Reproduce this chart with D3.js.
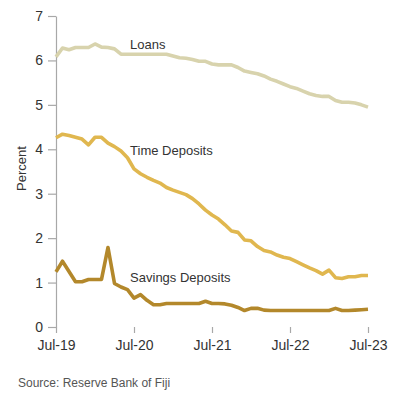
<!DOCTYPE html>
<html>
<head>
<meta charset="utf-8">
<script src="https://cdn.jsdelivr.net/npm/d3@7"></script>
<style>
  html, body { margin: 0; padding: 0; background: #fff; }
  svg { display: block; font-family: "Liberation Sans", Arial, sans-serif; }
</style>
</head>
<body>
<svg id="chart" width="395" height="394"></svg>
<script>
// Monthly interest rates, Jul-2019 to Jul-2023 (49 months)
const loans = [
  6.08, 6.28, 6.24, 6.29, 6.29, 6.29, 6.37, 6.30, 6.29, 6.26,
  6.14, 6.14, 6.14, 6.14, 6.14, 6.14, 6.14, 6.14, 6.10, 6.06,
  6.05, 6.02, 5.98, 5.98, 5.92, 5.90, 5.90, 5.90, 5.84, 5.76,
  5.73, 5.70, 5.65, 5.58, 5.53, 5.47, 5.41, 5.37, 5.31, 5.25,
  5.21, 5.19, 5.19, 5.10, 5.06, 5.06, 5.04, 5.00, 4.95
];
const timeDeposits = [
  4.26, 4.34, 4.31, 4.27, 4.23, 4.10, 4.27, 4.27, 4.14, 4.06,
  3.96, 3.81, 3.56, 3.45, 3.37, 3.30, 3.24, 3.14, 3.08, 3.03,
  2.98, 2.89, 2.77, 2.63, 2.52, 2.43, 2.30, 2.16, 2.13, 1.96,
  1.94, 1.81, 1.72, 1.69, 1.62, 1.57, 1.54, 1.47, 1.40, 1.33,
  1.27, 1.19, 1.28, 1.11, 1.09, 1.13, 1.13, 1.16, 1.16
];
const savingsDeposits = [
  1.24, 1.48, 1.25, 1.02, 1.02, 1.07, 1.07, 1.07, 1.79, 0.98,
  0.90, 0.84, 0.65, 0.73, 0.60, 0.50, 0.50, 0.53, 0.53, 0.53,
  0.53, 0.53, 0.53, 0.58, 0.53, 0.53, 0.52, 0.49, 0.44, 0.37,
  0.42, 0.42, 0.38, 0.37, 0.37, 0.37, 0.37, 0.37, 0.37, 0.37,
  0.37, 0.37, 0.37, 0.42, 0.37, 0.37, 0.38, 0.39, 0.40
];

const xTickMonths = [0, 12, 24, 36, 48];
const xTickLabels = ["Jul-19", "Jul-20", "Jul-21", "Jul-22", "Jul-23"];
const yTicks = [0, 1, 2, 3, 4, 5, 6, 7];

const series = [
  { name: "Loans", values: loans, color: "#d8d3ad", labelAt: [11.4, 6.26] },
  { name: "Time Deposits", values: timeDeposits, color: "#e0b74f", labelAt: [11.4, 3.87] },
  { name: "Savings Deposits", values: savingsDeposits, color: "#b3882b", labelAt: [11.4, 1.01] }
];

const margin = { top: 16, right: 27, bottom: 67, left: 56 };
const width = 395, height = 394;
const svg = d3.select("#chart");

const x = d3.scaleLinear().domain([0, 48]).range([margin.left, width - margin.right]);
const y = d3.scaleLinear().domain([0, 7]).range([height - margin.bottom, margin.top]);

const axisColor = "#a8a8a8";
const textColor = "#333";

// Y axis
const yAxis = svg.append("g")
  .attr("transform", `translate(${margin.left},0)`)
  .call(d3.axisLeft(y).tickValues(yTicks).tickFormat(d3.format("d")).tickSize(8).tickSizeOuter(0).tickPadding(5));

// X axis: ticks only, no baseline
const xAxis = svg.append("g")
  .attr("transform", `translate(0,${height - margin.bottom})`)
  .call(d3.axisBottom(x).tickValues(xTickMonths)
    .tickFormat((d, i) => xTickLabels[i]).tickSize(6).tickSizeOuter(0).tickPadding(7));
xAxis.select(".domain").remove();

yAxis.select(".domain").attr("stroke", axisColor).attr("stroke-width", 1.2);
[yAxis, xAxis].forEach(g => {
  g.selectAll(".tick line").attr("stroke", axisColor).attr("stroke-width", 1.2);
  g.selectAll(".tick text").attr("fill", textColor).style("font-size", "14px")
    .style("font-family", '"Liberation Sans", Arial, sans-serif');
});

// Y axis title
svg.append("text")
  .attr("transform", `translate(26,${(y(0) + y(7)) / 2 - 3}) rotate(-90)`)
  .attr("text-anchor", "middle")
  .attr("fill", textColor)
  .style("font-size", "13px")
  .text("Percent");

// Lines
const line = d3.line()
  .x((d, i) => x(i))
  .y(d => y(d));

svg.append("g")
  .selectAll("path")
  .data(series)
  .join("path")
  .attr("fill", "none")
  .attr("stroke", d => d.color)
  .attr("stroke-width", 3.6)
  .attr("stroke-linejoin", "round")
  .attr("stroke-linecap", "butt")
  .attr("d", d => line(d.values));

// Series labels
svg.append("g")
  .selectAll("text")
  .data(series)
  .join("text")
  .attr("x", d => x(d.labelAt[0]))
  .attr("y", d => y(d.labelAt[1]))
  .attr("fill", textColor)
  .style("font-size", "13px")
  .text(d => d.name);

// Source note
svg.append("text")
  .attr("x", 18)
  .attr("y", 387)
  .attr("fill", "#555")
  .style("font-size", "12px")
  .text("Source: Reserve Bank of Fiji");
</script>
</body>
</html>
